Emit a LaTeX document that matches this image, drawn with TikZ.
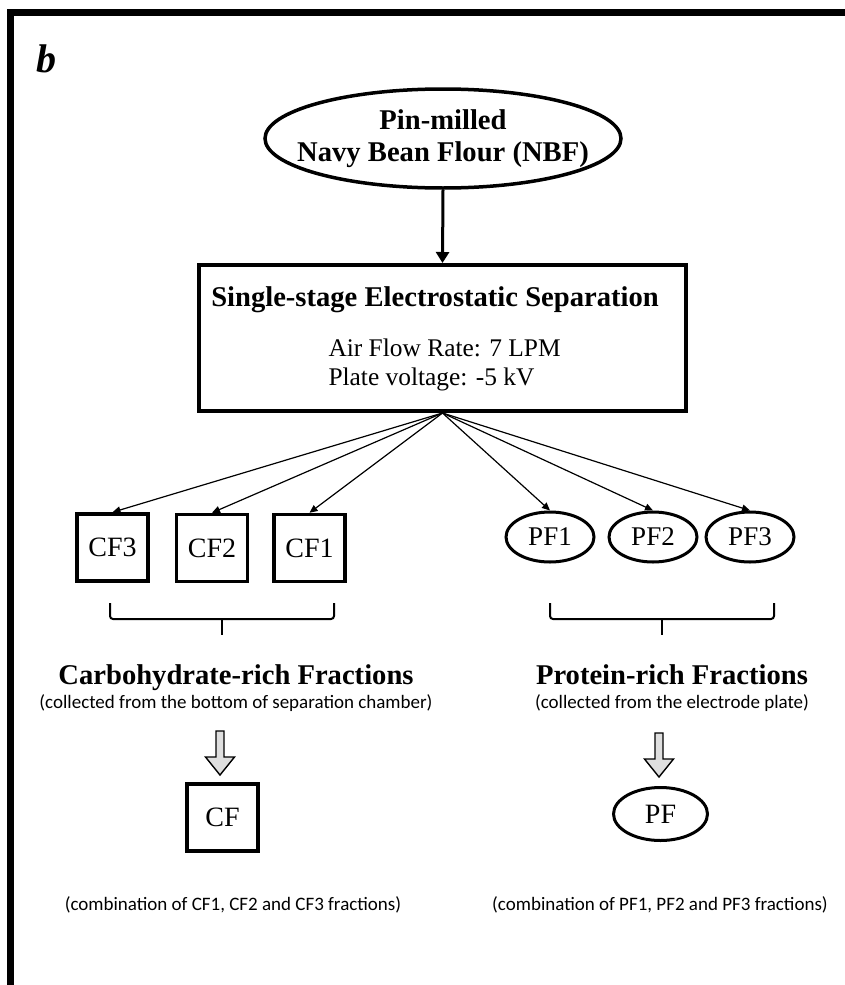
\documentclass[tikz,border=0pt]{standalone}
\usepackage{fontspec}
\setmainfont{Liberation Serif}
\newfontfamily\notefont{Carlito}
\usetikzlibrary{shapes.geometric}
\usetikzlibrary{arrows.meta}
\usetikzlibrary{positioning}

\tikzset{
  fracbox/.style={draw, line width=3.5pt, minimum width=71pt, minimum height=67pt, inner sep=0pt, font=\fontsize{28}{30}\selectfont},
  fracoval/.style={draw, ellipse, line width=3pt, minimum width=88pt, minimum height=50pt, inner sep=0pt, font=\fontsize{27}{30}\selectfont},
  feed/.style={-{Triangle[length=8pt,width=7pt]}, line width=1.2pt},
  mainfeed/.style={-{Triangle[length=11pt,width=13pt]}, line width=3pt},
  heading/.style={font=\fontsize{28.6}{32}\selectfont\bfseries},
  note/.style={font=\notefont\fontsize{19}{22}\selectfont},
  bracket/.style={line width=2pt, rounded corners=3pt},
  fatarrow/.pic={
    \draw[fill=gray!25, line width=1.4pt, line join=miter]
      (-4,0) -- (4,0) -- (4,26) -- (14.5,26) -- (0,44) -- (-14.5,26) -- (-4,26) -- cycle;
  }
}

\begin{document}
\begin{tikzpicture}[x=1pt, y=-1pt]
  \useasboundingbox (0,0) rectangle (845,985);
  % frame
  \draw[line width=7pt] (10,985) -- (10,12.5) -- (845,12.5);
  \node[anchor=base west, font=\fontsize{40}{40}\selectfont\bfseries\itshape] (panel) at (33,72) {b};

  % feed material and separator
  \node[draw, ellipse, line width=3.5pt, minimum width=356pt, minimum height=99pt] (flour) at (443,138.5) {};
  \node[align=center, heading] (flourtext) at (flour.center) {Pin-milled\\Navy Bean Flour (NBF)};
  \node[draw, line width=4pt, minimum width=487pt, minimum height=146pt] (sep) at (442.5,338) {};
  \node[anchor=base, heading] (septitle) at (435,306) {Single-stage Electrostatic Separation};
  \node[anchor=base west, font=\fontsize{25.4}{29}\selectfont] (rate) at (325,356) {Air Flow Rate: 7 LPM};
  \node[anchor=base west, font=\fontsize{25.4}{29}\selectfont] (volt) at (325,385) {Plate voltage: -5 kV};
  \draw[mainfeed] (flour.south) -- (sep.north);

  % fractions
  \node[fracbox] (cf3) at (112.5,547.5) {CF3};
  \node[fracbox] (cf2) at (212,548) {CF2};
  \node[fracbox] (cf1) at (309.5,548) {CF1};
  \node[fracoval] (pf1) at (550,537) {PF1};
  \node[fracoval] (pf2) at (653,537) {PF2};
  \node[fracoval] (pf3) at (750,537) {PF3};
  \coordinate (hub) at (sep.south);
  \foreach \n in {cf3,cf2,cf1,pf1,pf2,pf3}
    \draw[feed] (hub) -- (\n.north);

  % braces
  \draw[bracket] (110,603) |- (334,619) -- (334,603);
  \draw[line width=2pt] (222,619) -- (222,635);
  \draw[bracket] (550,603) |- (774,619) -- (774,603);
  \draw[line width=2pt] (662,619) -- (662,635);

  \node[anchor=base, heading] (carbo) at (236,684) {Carbohydrate-rich Fractions};
  \node[anchor=base, note] (carbonote) at (236,708) {(collected from the bottom of separation chamber)};
  \node[anchor=base, heading] (prot) at (672,684) {Protein-rich Fractions};
  \node[anchor=base, note] (protnote) at (672,708) {(collected from the electrode plate)};

  % combined fractions
  \pic at (220,731) {fatarrow};
  \pic at (659,733) {fatarrow};
  \node[fracbox] (cf) at (222.5,817.5) {CF};
  \node[fracoval, minimum width=94pt, minimum height=53pt, font=\fontsize{28}{30}\selectfont] (pf) at (660.5,814) {PF};
  \node[anchor=base, note] (cfnote) at (233,910) {(combination of CF1, CF2 and CF3 fractions)};
  \node[anchor=base, note] (pfnote) at (660,910) {(combination of PF1, PF2 and PF3 fractions)};
\end{tikzpicture}
\end{document}
